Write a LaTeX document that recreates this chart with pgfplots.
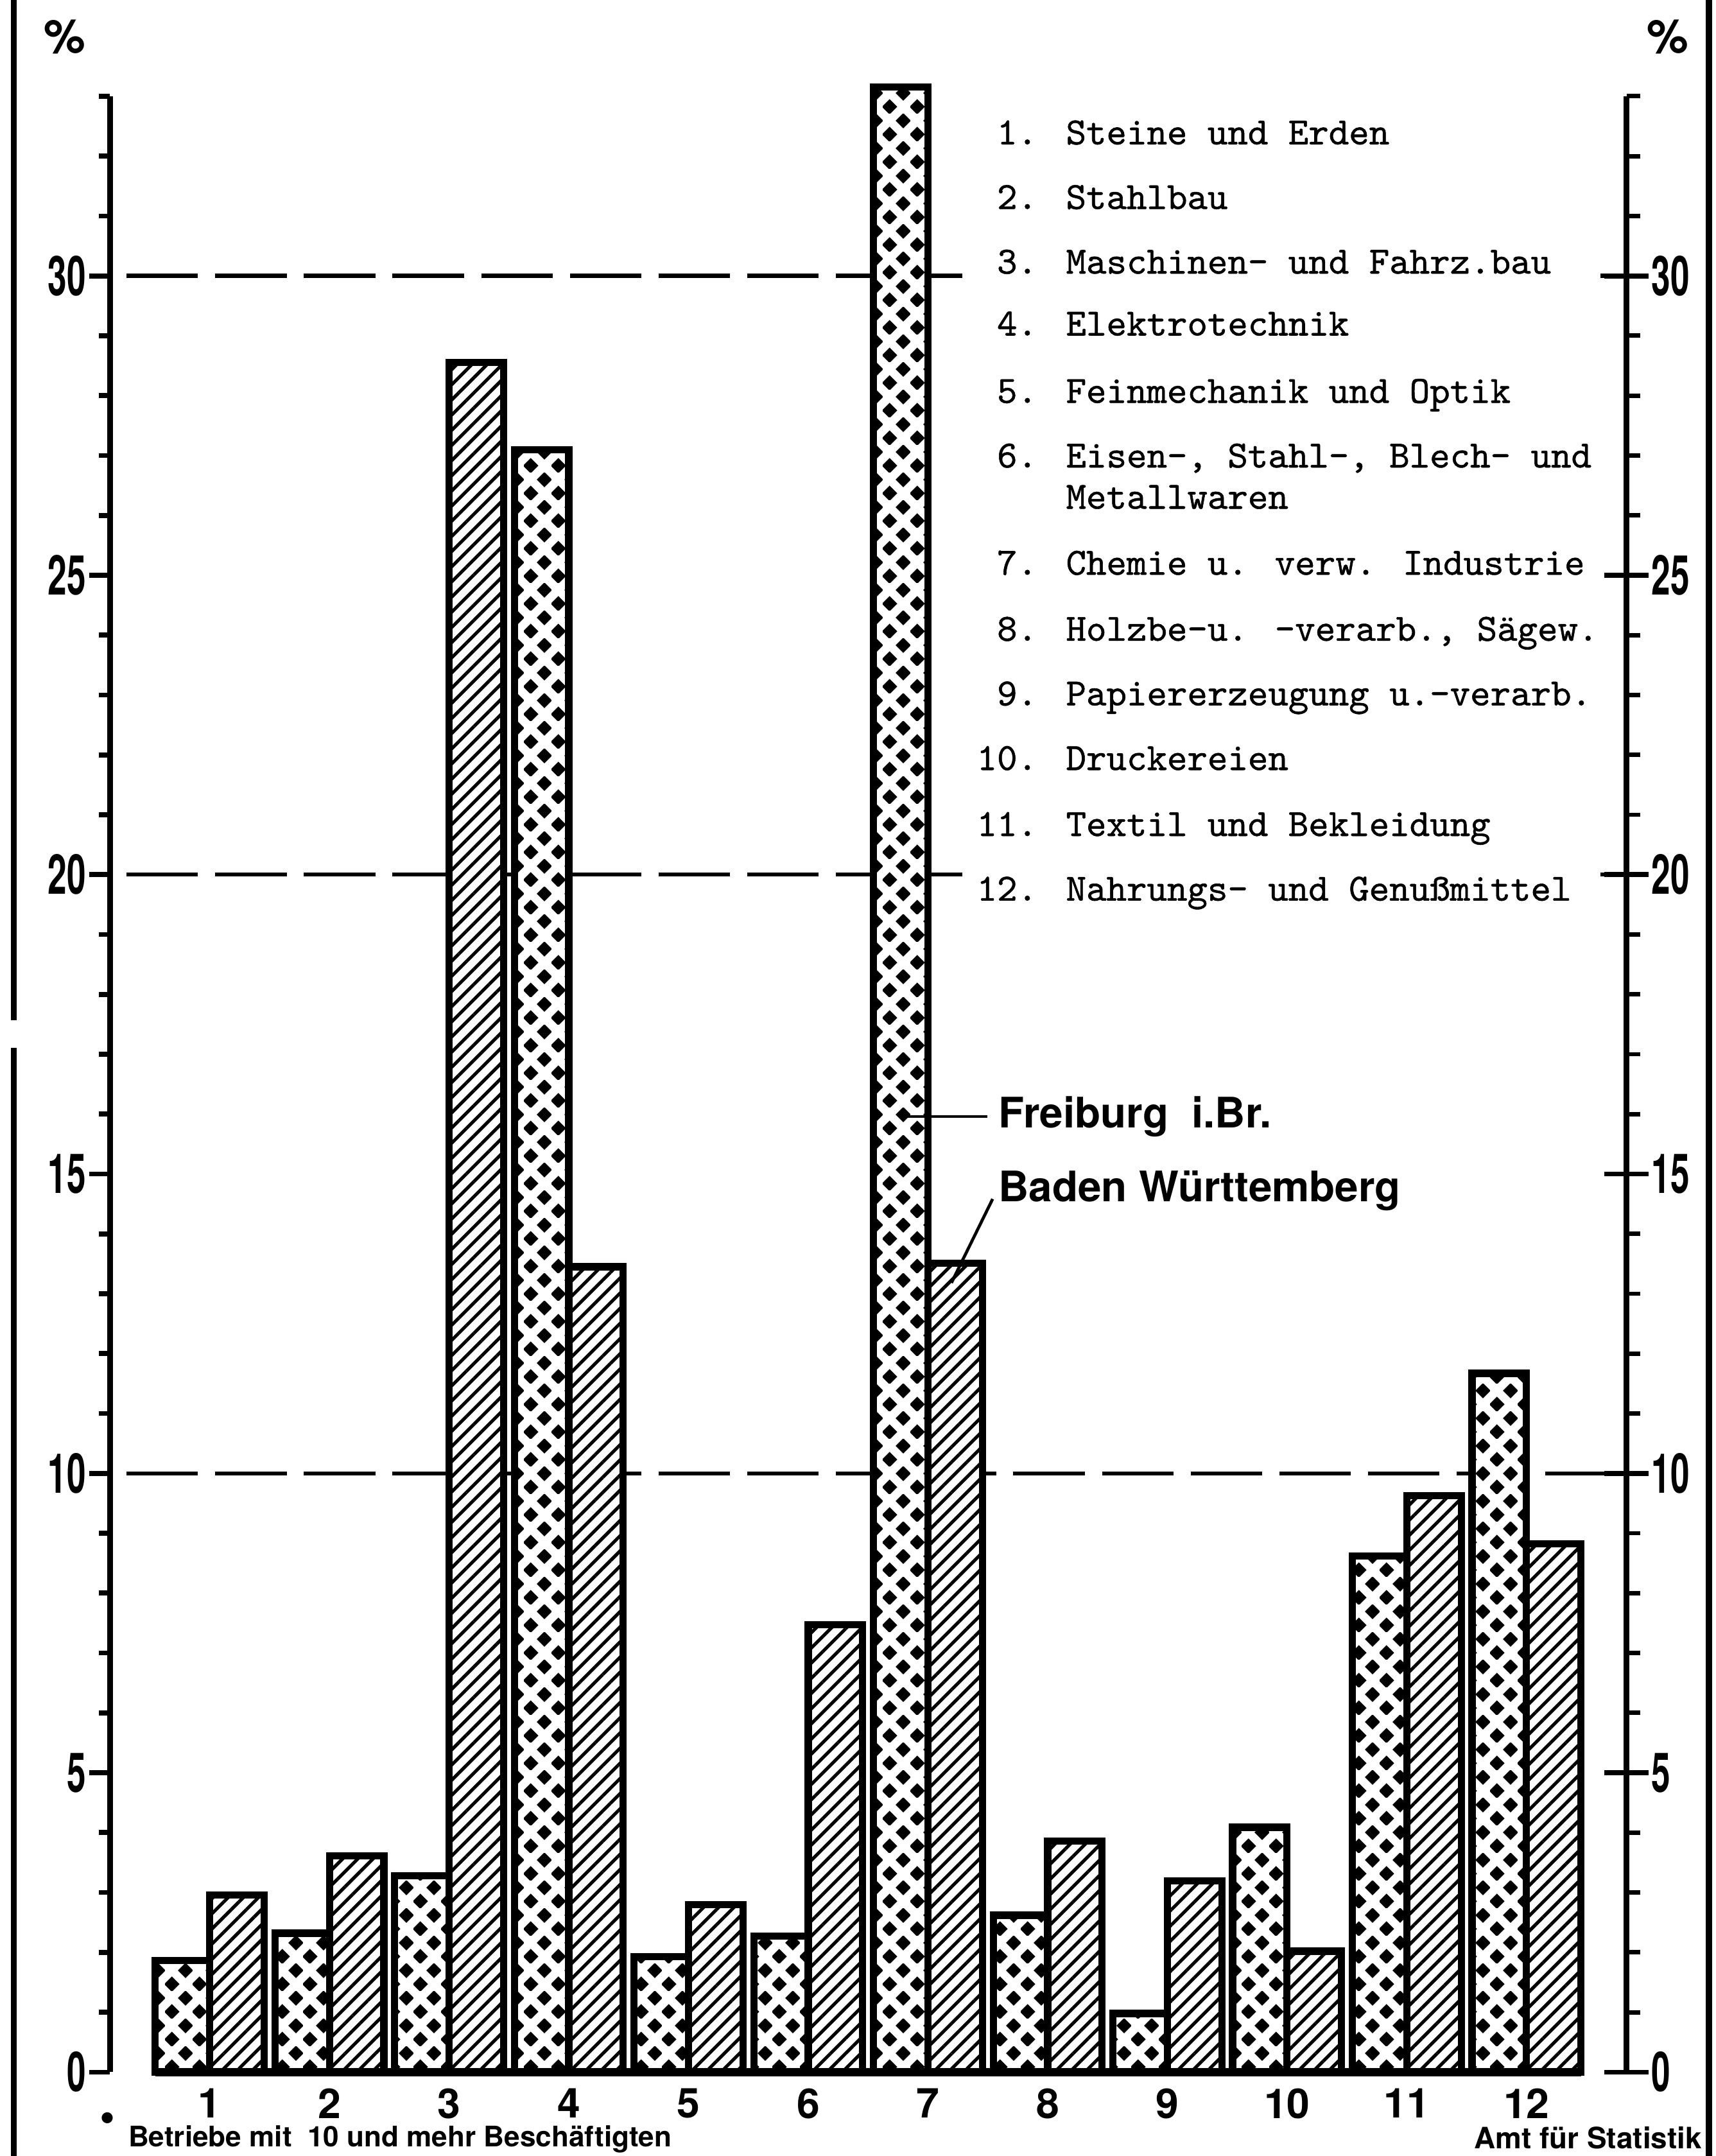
\documentclass[border=0pt]{standalone}
\usepackage{fontspec}
\usepackage{pgfplots}
\pgfplotsset{compat=1.18}
\usetikzlibrary{patterns.meta}
\newfontfamily\heros{TeX Gyre Heros}
\newfontfamily\condheros{TeX Gyre Heros}[FakeStretch=0.62]
\newfontfamily\legfont{lmmono10-regular}[Extension=.otf, FakeBold=0.9]

\pgfdeclarepattern{
  name=diamondlattice,
  type=uncolored,
  bottom left={\pgfpoint{0pt}{0pt}},
  top right={\pgfpoint{10pt}{10pt}},
  tile size={\pgfpoint{10pt}{10pt}},
  code={
    \pgfpathmoveto{\pgfpoint{2.5pt}{-0.3pt}}
    \pgfpathlineto{\pgfpoint{5.3pt}{2.5pt}}
    \pgfpathlineto{\pgfpoint{2.5pt}{5.3pt}}
    \pgfpathlineto{\pgfpoint{-0.3pt}{2.5pt}}
    \pgfpathclose
    \pgfpathmoveto{\pgfpoint{7.5pt}{4.7pt}}
    \pgfpathlineto{\pgfpoint{10.3pt}{7.5pt}}
    \pgfpathlineto{\pgfpoint{7.5pt}{10.3pt}}
    \pgfpathlineto{\pgfpoint{4.7pt}{7.5pt}}
    \pgfpathclose
    \pgfusepath{fill}
  }
}

\pgfplotstableread{
g F BW
1 1.86 2.96
2 2.32 3.61
3 3.28 28.55
4 27.10 13.45
5 1.93 2.80
6 2.27 7.47
7 33.15 13.51
8 2.62 3.86
9 0.98 3.19
10 4.09 2.02
11 8.62 9.63
12 11.67 8.82
}\datatable

\newcommand{\legitem}[3]{%
  \node[anchor=base east, inner sep=0pt] at (337.5,#1) {#2.};
  \node[anchor=base west, inner sep=0pt] at (347.5,#1) {#3};}

\begin{document}
\begin{tikzpicture}[x=1pt,y=1pt]
\path[use as bounding box] (-40,-30.5) rectangle (584,753.5);

% main axis (left)
\begin{axis}[
  at={(0,0)}, anchor=south west,
  width=551.5pt, height=718.5pt, scale only axis,
  xmin=0.167, xmax=12.835, ymin=0, ymax=33,
  clip=false,
  axis x line*=bottom, axis y line*=left,
  x axis line style={draw=none},
  y axis line style={line width=2.1pt, -},
  xtick={1,...,12}, xtick style={draw=none},
  ytick={0,5,...,30}, minor ytick={0,1,...,33},
  tick align=outside, major tick length=7.5pt, minor tick length=4pt,
  ytick style={line width=1.8pt, black},
  minor tick style={line width=1.6pt, black},
  /pgf/number format/assume math mode=true,
  yticklabel style={font=\condheros\bfseries\fontsize{20}{20}\selectfont, inner sep=1pt},
  xticklabel style={font=\heros\bfseries\fontsize{15}{15}\selectfont, yshift=5pt},
]
\addplot[line width=1.5pt, dash pattern=on 26pt off 6.25pt, forget plot] coordinates {(0.305,10) (12.835,10)};
\addplot[line width=1.5pt, dash pattern=on 26pt off 6.25pt, forget plot] coordinates {(0.305,20) (12.835,20)};
\addplot[line width=1.5pt, dash pattern=on 26pt off 6.25pt, forget plot] coordinates {(0.305,30) (12.835,30)};

\addplot[ybar, bar width=0.455, bar shift=-0.2275, fill=white, draw=black,
  line width=2.6pt, postaction={pattern=diamondlattice}] table[x=g, y=F] {\datatable};
\addplot[ybar, bar width=0.455, bar shift=0.2275, fill=white, draw=black,
  line width=2.6pt, postaction={pattern={Lines[angle=45, distance=3.9pt, line width=1.2pt]}}] table[x=g, y=BW] {\datatable};
\addplot[line width=3pt, forget plot] coordinates {(0.545,0) (12.455,0)};
\end{axis}

% right axis with major ticks and labels
\begin{axis}[
  at={(0,0)}, anchor=south west,
  width=551.5pt, height=718.5pt, scale only axis,
  xmin=0.167, xmax=12.835, ymin=0, ymax=33,
  axis x line=none, axis y line*=right,
  y axis line style={line width=2.1pt, -},
  ytick={0,5,...,30},
  tick align=center, major tick length=16pt,
  ytick style={line width=1.8pt, black},
  /pgf/number format/assume math mode=true,
  yticklabel style={font=\condheros\bfseries\fontsize{20}{20}\selectfont, inner sep=1pt},
]
\addplot[draw=none, forget plot] coordinates {(1,0)};
\end{axis}

% right axis minor ticks
\begin{axis}[
  at={(0,0)}, anchor=south west,
  width=551.5pt, height=718.5pt, scale only axis,
  xmin=0.167, xmax=12.835, ymin=0, ymax=33,
  axis x line=none, axis y line*=right,
  y axis line style={draw=none},
  ytick={0,1,...,33}, yticklabels={},
  tick align=outside, major tick length=5pt,
  ytick style={line width=1.6pt, black},
]
\addplot[draw=none, forget plot] coordinates {(1,0)};
\end{axis}

% legend background and text
\fill[white] (310,421) rectangle (542,716);
\begin{scope}[font=\legfont\fontsize{14}{15}\selectfont]
\legitem{701}{1}{Steine und Erden}
\legitem{677.5}{2}{Stahlbau}
\legitem{654}{3}{Maschinen- und Fahrz.bau}
\legitem{631.5}{4}{Elektrotechnik}
\legitem{607}{5}{Feinmechanik und Optik}
\legitem{583.5}{6}{Eisen-, Stahl-, Blech- und}
\node[anchor=base west, inner sep=0pt] at (347.5,568.5) {Metallwaren};
\legitem{544.5}{7}{Chemie u. verw. Industrie}
\legitem{520.5}{8}{Holzbe-u. -verarb., Sägew.}
\legitem{497}{9}{Papiererzeugung u.-verarb.}
\legitem{473.5}{10}{Druckereien}
\legitem{449.5}{11}{Textil und Bekleidung}
\legitem{426}{12}{Nahrungs- und Genußmittel}
\end{scope}

% percent signs
\node[font=\heros\bfseries\fontsize{17}{17}\selectfont, inner sep=0pt] at (-16.5,740) {\%};
\node[font=\heros\bfseries\fontsize{17}{17}\selectfont, inner sep=0pt] at (566.5,740) {\%};

% series annotations
\draw[line width=1.1pt] (288,347.5) -- (319,347.5);
\node[anchor=west, inner sep=0pt, font=\heros\bfseries\fontsize{15.3}{15.3}\selectfont] at (323,347.5) {Freiburg\ \ i.Br.};
\draw[line width=1.1pt] (321,317.5) -- (306,287);
\node[anchor=west, inner sep=0pt, font=\heros\bfseries\fontsize{15.3}{15.3}\selectfont] at (323,320.5) {Baden Württemberg};

% footer
\node[inner sep=0pt, font=\heros\bfseries\fontsize{16}{16}\selectfont] at (-1,-18) {\textbullet};
\node[anchor=west, inner sep=0pt, font=\heros\bfseries\fontsize{10.3}{10.3}\selectfont] at (6.5,-24.5) {Betriebe mit\ \ 10 und mehr Beschäftigten};
\node[anchor=west, inner sep=0pt, font=\heros\bfseries\fontsize{10.7}{10.7}\selectfont] at (496,-24) {Amt für Statistik};

% frame lines
\draw[line width=2.2pt] (-35,753.5) -- (-35,382.5);
\draw[line width=2.2pt] (-35,372.5) -- (-35,-30.5);
\draw[line width=2.2pt] (581.5,753.5) -- (581.5,-30.5);
\end{tikzpicture}
\end{document}
